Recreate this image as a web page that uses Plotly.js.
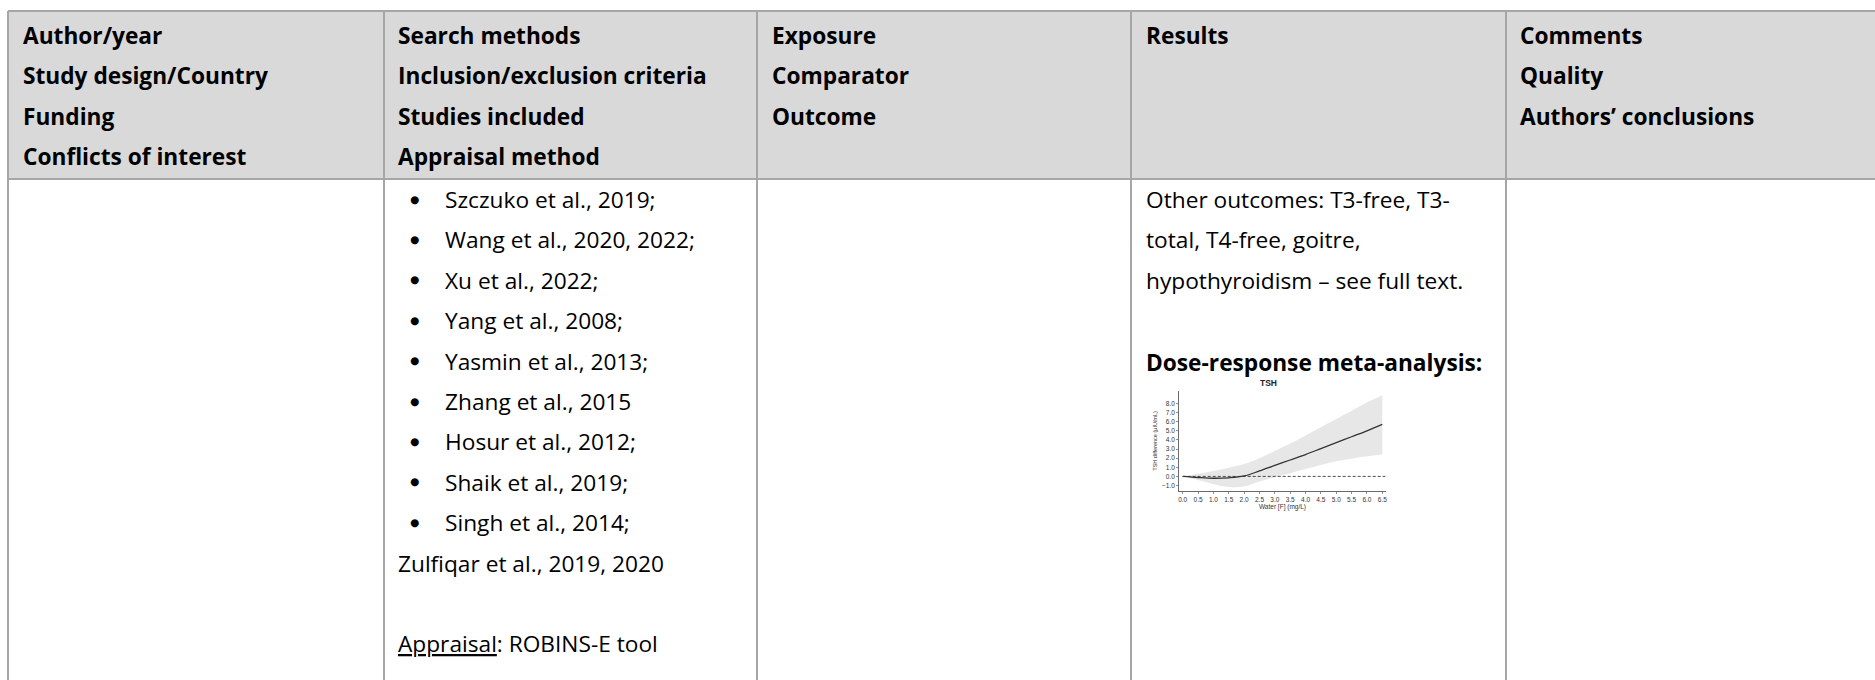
<!DOCTYPE html>
<html><head><meta charset="utf-8">
<script src="https://cdn.plot.ly/plotly-3.0.1.min.js"></script>
<style>html,body{margin:0;padding:0;background:#fff;}#chart{width:1875px;height:680px;}</style>
</head><body><div id="chart"></div>
<script>
// ---- table text ----
const headerCol1 = ["Author/year", "Study design/Country", "Funding", "Conflicts of interest"];
const headerCol2 = ["Search methods", "Inclusion/exclusion criteria", "Studies included", "Appraisal method"];
const headerCol3 = ["Exposure", "Comparator", "Outcome"];
const headerCol4 = ["Results"];
const headerCol5 = ["Comments", "Quality", "Authors’ conclusions"];
const studiesBulleted = ["Szczuko et al., 2019;", "Wang et al., 2020, 2022;", "Xu et al., 2022;", "Yang et al., 2008;",
  "Yasmin et al., 2013;", "Zhang et al., 2015", "Hosur et al., 2012;", "Shaik et al., 2019;", "Singh et al., 2014;"];
const studiesLast = "Zulfiqar et al., 2019, 2020";
const appraisalLabel = "Appraisal";
const appraisalText = ": ROBINS-E tool";
const resultsLines = ["Other outcomes: T3-free, T3-", "total, T4-free, goitre,", "hypothyroidism – see full text."];
const resultsHeading = "Dose-response meta-analysis:";

// ---- dose-response chart data (TSH) ----
const chartTitle = "TSH";
const xLabel = "Water [F] (mg/L)";
const yLabel = "TSH difference (μIU/mL)";
const fluoride = [0, 0.5, 1.0, 1.5, 2.0, 2.5, 3.0, 3.5, 4.0, 4.5, 5.0, 5.5, 6.0, 6.5];
const tshMean  = [0, -0.12, -0.2, -0.15, 0.05, 0.6, 1.2, 1.8, 2.4, 3.05, 3.7, 4.35, 5.0, 5.7];
const tshUpper = [0, 0.3, 0.6, 0.95, 1.35, 2.0, 2.8, 3.6, 4.5, 5.4, 6.3, 7.2, 8.1, 8.9];
const tshLower = [0, -0.4, -0.85, -1.15, -1.1, -0.55, -0.1, 0.35, 0.8, 1.25, 1.65, 1.95, 2.2, 2.4];
const refLineX = [0, 6.6];
const refLineY = [0, 0];
const xTicks = [0, 0.5, 1, 1.5, 2, 2.5, 3, 3.5, 4, 4.5, 5, 5.5, 6, 6.5];
const yTicks = [-1, 0, 1, 2, 3, 4, 5, 6, 7, 8];

const W = 1875, H = 680;
const px = v => v / W;
const py = v => 1 - v / H;

const FONT = "Open Sans, Noto Sans, sans-serif";
const FS = 22.7;
const BORDER = "#a6a6a6";
const colX = [8, 384, 757, 1131, 1506];
const textX = [21, 396, 770, 1144, 1518];
const topY = 11, headBottom = 179;
const headBase = [41.5, 82, 122.5, 163];
const bodyBase0 = 206, lineStep = 40.4;

const shapes = [];
shapes.push({type: "rect", xref: "paper", yref: "paper", x0: px(colX[0]), x1: 1.01, y0: py(headBottom), y1: py(topY),
  fillcolor: "#d9d9d9", line: {width: 0}, layer: "below"});
shapes.push({type: "line", xref: "paper", yref: "paper", x0: px(colX[0]), x1: 1.01, y0: py(topY), y1: py(topY), line: {color: BORDER, width: 2}});
shapes.push({type: "line", xref: "paper", yref: "paper", x0: px(colX[0]), x1: 1.01, y0: py(headBottom), y1: py(headBottom), line: {color: BORDER, width: 2}});
colX.forEach(x => shapes.push({type: "line", xref: "paper", yref: "paper", x0: px(x), x1: px(x), y0: py(topY), y1: -0.01, line: {color: BORDER, width: 2}}));

const ann = [];
const baseToCenter = b => py(b - 6.5);
function addText(text, x, base, bold, size, anchor, family) {
  ann.push({xref: "paper", yref: "paper", x: px(x), y: baseToCenter(base), xanchor: anchor || "left", yanchor: "middle",
    text: bold ? "<b>" + text + "</b>" : text, showarrow: false,
    font: {family: family || FONT, size: size || FS, color: "#000"}});
}
[headerCol1, headerCol2, headerCol3, headerCol4, headerCol5].forEach((col, i) =>
  col.forEach((t, j) => addText(t, textX[i], headBase[j], true)));

studiesBulleted.forEach((t, j) => {
  const b = bodyBase0 + j * lineStep;
  addText("●", 414, b - 1, false, 10.5, "center", "DejaVu Sans");
  addText(t, 443, b, false);
});
addText(studiesLast, textX[1], bodyBase0 + 9 * lineStep, false);
addText('<span style="text-decoration:underline">' + appraisalLabel + '</span>' + appraisalText, textX[1], bodyBase0 + 11 * lineStep, false);
resultsLines.forEach((t, j) => addText(t, textX[3], bodyBase0 + j * lineStep, false));
addText(resultsHeading, textX[3], bodyBase0 + 4 * lineStep + 1.5, true);

// chart title
ann.push({xref: "paper", yref: "paper", x: px(1268), y: py(383), xanchor: "center", yanchor: "middle",
  text: "<b>" + chartTitle + "</b>", showarrow: false, font: {family: "Liberation Sans, Arial", size: 8.5, color: "#222"}});

const traces = [
  {x: fluoride, y: tshLower, type: "scatter", mode: "lines", line: {width: 0, color: "rgba(0,0,0,0)", shape: "spline"}, hoverinfo: "skip", showlegend: false},
  {x: fluoride, y: tshUpper, type: "scatter", mode: "lines", fill: "tonexty", fillcolor: "#e7e7e7", line: {width: 0, color: "rgba(0,0,0,0)", shape: "spline"}, showlegend: false},
  {x: refLineX, y: refLineY, type: "scatter", mode: "lines", line: {color: "#222", width: 0.8, dash: "3px,2px"}, showlegend: false},
  {x: fluoride, y: tshMean, type: "scatter", mode: "lines", line: {color: "#333", width: 1.3, shape: "spline"}, showlegend: false}
];

const tickFont = {family: "Liberation Sans, Arial", size: 6.5, color: "#333"};
const layout = {
  width: W, height: H, margin: {l: 0, r: 0, t: 0, b: 0},
  paper_bgcolor: "#fff", plot_bgcolor: "rgba(0,0,0,0)", showlegend: false,
  xaxis: {domain: [px(1179), px(1386)], range: [-0.12, 6.62], tickvals: xTicks, tickformat: ".1f",
    showgrid: false, zeroline: false, showline: true, linecolor: "#444", linewidth: 0.8,
    ticks: "outside", ticklen: 2, tickwidth: 0.6, tickcolor: "#444", tickfont: tickFont,
    title: {text: xLabel, font: {family: "Liberation Sans, Arial", size: 6.5, color: "#333"}, standoff: 1}},
  yaxis: {domain: [py(491), py(390.7)], range: [-1.6, 9.4], tickvals: yTicks, tickformat: ".1f",
    showgrid: false, zeroline: false, showline: true, linecolor: "#444", linewidth: 0.8,
    ticks: "outside", ticklen: 2, tickwidth: 0.6, tickcolor: "#444", tickfont: tickFont,
    title: {text: yLabel, font: {family: "Liberation Sans, Arial", size: 5.5, color: "#333"}, standoff: 4}},
  shapes: shapes, annotations: ann
};
Plotly.newPlot("chart", traces, layout, {staticPlot: true, displayModeBar: false});
</script></body></html>
